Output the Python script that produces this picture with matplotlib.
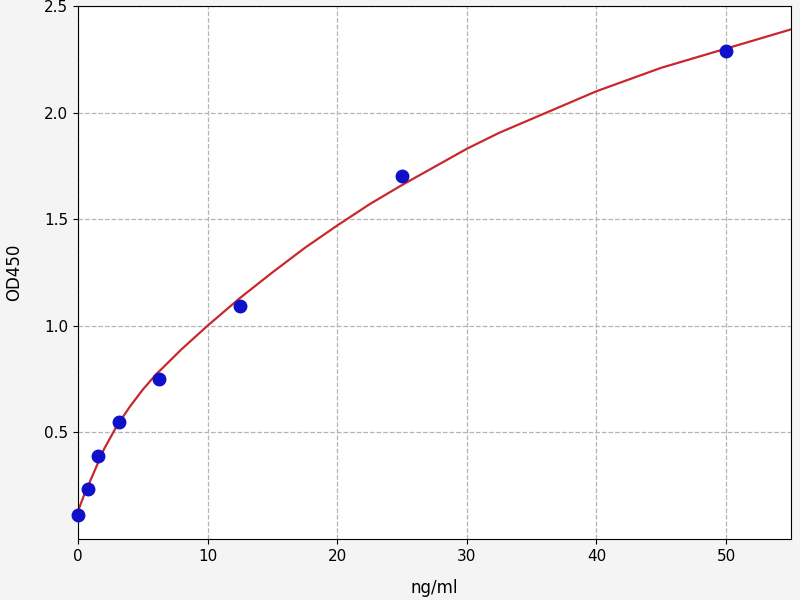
import matplotlib
matplotlib.use('Agg')
import matplotlib.pyplot as plt

# standard points
conc = [0, 0.78, 1.56, 3.125, 6.25, 12.5, 25, 50]
od = [0.11, 0.235, 0.39, 0.55, 0.75, 1.09, 1.70, 2.29]

# fitted curve
curve_x = [0, 0.25, 0.5, 1, 1.5, 2, 3, 4, 5, 6, 7, 8, 9, 10, 12.5, 15, 17.5, 20, 22.5,
           25, 27.5, 30, 32.5, 35, 37.5, 40, 42.5, 45, 47.5, 50, 52.5, 55]
curve_y = [0.13, 0.17, 0.21, 0.28, 0.35, 0.42, 0.53, 0.62, 0.70, 0.77, 0.83, 0.89, 0.945,
           1.00, 1.13, 1.25, 1.365, 1.47, 1.57, 1.66, 1.745, 1.83, 1.905, 1.97, 2.035,
           2.10, 2.155, 2.21, 2.255, 2.30, 2.345, 2.39]

fig = plt.figure(figsize=(8, 6), dpi=100, facecolor='#f4f4f4')
ax = fig.add_axes([0.0975, 0.102, 0.891, 0.888])

ax.plot(curve_x, curve_y, color='#c8282c', linewidth=1.6, zorder=2)
ax.plot(conc, od, 'o', color='#1010c8', markersize=9, zorder=3, clip_on=False)

ax.set_xlim(0, 55)
ax.set_ylim(0, 2.5)
ax.set_yticks([0.5, 1.0, 1.5, 2.0, 2.5])
ax.set_xticks([0, 10, 20, 30, 40, 50])
ax.grid(True, linestyle='--', color='#b4b4b4', linewidth=0.9)
ax.set_axisbelow(True)
ax.tick_params(labelsize=11)
ax.set_xlabel('ng/ml', fontsize=12, labelpad=11)
ax.set_ylabel('OD450', fontsize=12, labelpad=15)

fig.savefig('out.png', dpi=100, facecolor=fig.get_facecolor())
